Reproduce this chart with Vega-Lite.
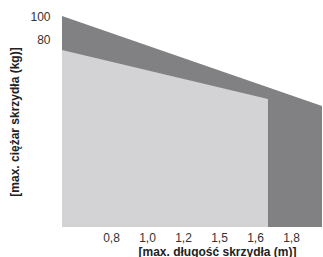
{
  "$schema": "https://vega.github.io/schema/vega-lite/v6.json",
  "width": 260,
  "height": 211,
  "autosize": "none",
  "padding": {"left": 62, "top": 16, "right": 1, "bottom": 30},
  "background": "white",
  "config": {"view": {"stroke": null}},
  "layer": [
    {
      "data": {"values": [
        {"u": -0.36, "w": 100},
        {"u": 6.86, "w": 25}
      ]},
      "mark": {"type": "area", "color": "#818184", "interpolate": "linear"},
      "encoding": {
        "x": {"field": "u", "type": "quantitative", "scale": {"domain": [-0.36, 6.86], "nice": false, "zero": false},
          "axis": {"values": [1, 2, 3, 4, 5, 6], "labelExpr": "['','0,8','1,0','1,2','1,5','1,6','1,8'][datum.value]",
            "domain": false, "ticks": false, "grid": false, "labelFont": "Liberation Sans", "labelFontSize": 12, "labelColor": "#333333", "labelPadding": 5,
            "title": "[max. długość skrzydła (m)]", "titleFont": "Liberation Sans", "titleFontSize": 12, "titleFontWeight": "bold", "titleColor": "#222222", "titleX": 155, "titlePadding": 3}},
        "y": {"field": "w", "type": "quantitative", "scale": {"domain": [-76, 100], "nice": false, "zero": false},
          "axis": {"values": [80, 100], "domain": false, "ticks": false, "grid": false, "labelFont": "Liberation Sans", "labelFontSize": 12, "labelColor": "#333333", "labelPadding": 12,
            "title": "[max. ciężar skrzydła (kg)]", "titleFont": "Liberation Sans", "titleFontSize": 12, "titleFontWeight": "bold", "titleColor": "#222222", "titlePadding": 8}},
        "y2": {"datum": -76}
      }
    },
    {
      "data": {"values": [
        {"u": -0.36, "w": 71.7},
        {"u": 5.36, "w": 30.8}
      ]},
      "mark": {"type": "area", "color": "#d3d3d5", "interpolate": "linear"},
      "encoding": {
        "x": {"field": "u", "type": "quantitative"},
        "y": {"field": "w", "type": "quantitative"},
        "y2": {"datum": -76}
      }
    }
  ]
}
